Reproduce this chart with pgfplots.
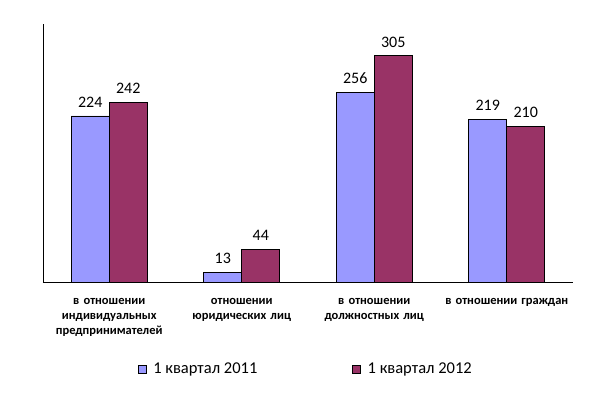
\documentclass[border=0pt]{standalone}
\usepackage{pgfplots}
\pgfplotsset{compat=1.18}
\usepackage{fontspec}
\setmainfont{Carlito}
\definecolor{c1}{HTML}{9999FF}
\definecolor{c2}{HTML}{993366}
\begin{document}
\begin{tikzpicture}[x=1pt,y=1pt]
\useasboundingbox (0,0) rectangle (606,396);
\begin{axis}[
  at={(43pt,114pt)}, anchor=south west,
  scale only axis, width=530pt, height=258pt,
  ymin=0, ymax=348, xmin=-0.5, xmax=3.5,
  /pgf/number format/assume math mode=true,
  axis x line*=bottom, axis y line*=left,
  axis line style={black, line width=0.8pt},
  ytick=\empty,
  xtick={0,1,2,3},
  xticklabels={{в отношении\\индивидуальных\\предпринимателей},{отношении\\юридических лиц},{в отношении\\должностных лиц},{в отношении граждан}},
  major x tick style={draw=none},
  extra x ticks={-0.5,0.5,1.5,2.5,3.5},
  extra x tick labels={},
  extra x tick style={tick style={draw=black, line width=0.8pt}, major tick length=5pt, tick align=outside},
  xticklabel style={font=\bfseries\fontsize{12.5}{15}\selectfont, align=center, text width=132pt, yshift=-9pt},
  ybar=0pt, bar width=38pt,
  nodes near coords,
  every node near coord/.append style={font=\fontsize{16}{16}\selectfont, yshift=5pt, black},
  legend style={at={(0.496,-0.337)}, anchor=center, draw=none, legend columns=2,
    font=\fontsize{16.5}{18}\selectfont,
    /tikz/every even column/.append style={column sep=93pt}},
  legend image code/.code={\draw[#1,draw=black,line width=0.6pt] (0pt,-4pt) rectangle (8pt,4pt); \path[draw=none,fill=none] (0pt,0pt) -- (13pt,0pt);},
]
\addplot[fill=c1, draw=black, line width=0.8pt] coordinates {(0,224) (1,13) (2,256) (3,219)};
\addplot[fill=c2, draw=black, line width=0.8pt] coordinates {(0,242) (1,44) (2,305) (3,210)};
\legend{1 квартал 2011, 1 квартал 2012}
\end{axis}
\end{tikzpicture}
\end{document}
